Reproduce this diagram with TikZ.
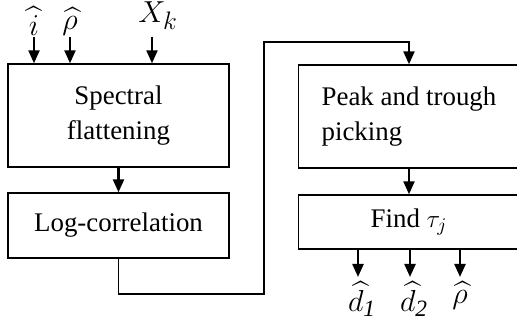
\documentclass[tikz,border=0pt]{standalone}
\usepackage{amsmath}
\usepackage{fontspec}
\setmainfont{Liberation Serif}
\usepackage{tikz}
\usetikzlibrary{calc,arrows.meta}

\begin{document}
\begin{tikzpicture}[
    blockbox/.style={draw, line width=0.8pt, minimum width=4.42cm, inner sep=0pt,
      font=\fontsize{15.3}{20}\selectfont},
    arr/.style={line width=1.3pt, -{Triangle[length=2.6mm, width=2.2mm]}},
    wire/.style={line width=1.0pt},
    lbl/.style={font=\fontsize{19}{22}\selectfont, inner sep=0pt}]
  \useasboundingbox (0,0) rectangle (10.34,6.62);
  \clip (0,0) rectangle (10.34,6.62);
  % left column
  \node[blockbox, minimum height=2.06cm, align=center] (spec) at (2.37,4.31) {Spectral\\flattening};
  \node[blockbox, minimum height=1.30cm] (logc) at (2.37,2.11) {Log-correlation};
  % right column
  \node[blockbox, minimum height=2.06cm, align=left] (peak) at (8.18,4.29) {Peak and trough\\picking};
  \node[blockbox, minimum height=1.08cm] (findt) at (8.18,2.18) {Find $\tau_j$};
  % inputs
  \coordinate (in1) at (0.68,5.88);
  \coordinate (in2) at (1.40,5.88);
  \coordinate (in3) at (3.04,5.88);
  \node[lbl, anchor=south] (ihat) at ($(in1)+(0,0.03)$) {$\widehat{i}$};
  \node[lbl, anchor=south] (rhoin) at ($(in2)+(0,0.03)$) {$\widehat{\rho}$};
  \node[lbl, anchor=south] (xk) at ($(in3)+(0.12,0.14)$) {$X_k$};
  \draw[arr] (in1) -- (in1 |- spec.north);
  \draw[arr] (in2) -- (in2 |- spec.north);
  \draw[arr] (in3) -- (in3 |- spec.north);
  % flow
  \draw[arr] (spec.south) -- (logc.north);
  \coordinate (low) at (5.28,0.74);
  \coordinate (high) at (5.28,5.78);
  \draw[wire] (logc.south) |- (low) -- (high) -| ([yshift=2.4mm]peak.north);
  \draw[arr] ([yshift=2.6mm]peak.north) -- (peak.north);
  \draw[arr] (peak.south) -- (findt.north);
  % outputs
  \coordinate (out1) at (7.16,1.08);
  \coordinate (out2) at (8.20,1.08);
  \coordinate (out3) at (9.20,1.08);
  \draw[arr] (out1 |- findt.south) -- (out1);
  \draw[arr] (out2 |- findt.south) -- (out2);
  \draw[arr] (out3 |- findt.south) -- (out3);
  \node[lbl, anchor=north] (dhat1) at ($(out1)+(0.08,-0.08)$) {$\widehat{d}_{\mathit{1}}$};
  \node[lbl, anchor=north] (dhat2) at ($(out2)+(0.08,-0.08)$) {$\widehat{d}_{\mathit{2}}$};
  \node[lbl, anchor=north] (rhoout) at ($(out3)+(0,-0.08)$) {$\widehat{\rho}$};
\end{tikzpicture}
\end{document}
